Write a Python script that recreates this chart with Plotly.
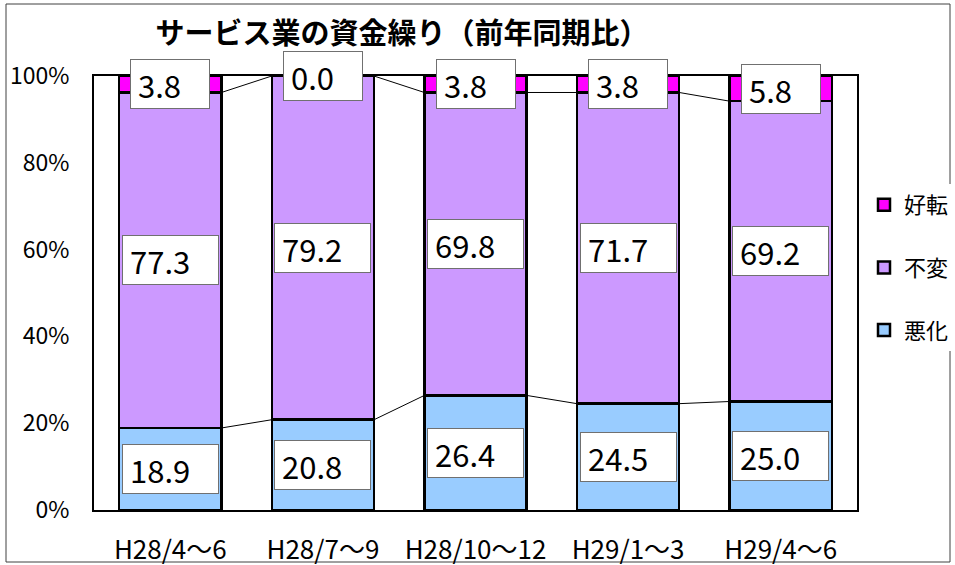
import plotly.graph_objects as go

categories = ["H28/4～6", "H28/7～9", "H28/10～12", "H29/1～3", "H29/4～6"]
worse = [18.9, 20.8, 26.4, 24.5, 25.0]      # 悪化
same = [77.3, 79.2, 69.8, 71.7, 69.2]       # 不変
better = [3.8, 0.0, 3.8, 3.8, 5.8]          # 好転
series_names = ["悪化", "不変", "好転"]
series_colors = ["#99CCFF", "#CC99FF", "#FF00FF"]
y_ticks = [0, 20, 40, 60, 80, 100]

JP = "Noto Sans CJK JP"
bar_w = 0.67
xs = list(range(len(categories)))

fig = go.Figure()
series = [worse, same, better]
for i, (name, vals, col) in enumerate(zip(series_names, series, series_colors)):
    fig.add_trace(go.Bar(
        x=xs, y=vals, name=name, width=bar_w,
        marker=dict(color=col, line=dict(color="black", width=2.5)),
        legendgroup=name, legendrank=len(series) - i,
    ))

# connecting lines between bars at each cumulative boundary
cum = [0] * len(categories)
bounds = []
for vals in series[:-1]:
    cum = [c + v for c, v in zip(cum, vals)]
    bounds.append(list(cum))
for b in bounds:
    lx, ly = [], []
    for i in range(len(categories) - 1):
        lx += [xs[i] + bar_w / 2, xs[i + 1] - bar_w / 2, None]
        ly += [b[i], b[i + 1], None]
    fig.add_trace(go.Scatter(x=lx, y=ly, mode="lines", line=dict(color="black", width=1),
                             showlegend=False, hoverinfo="skip"))

# data labels
base = [0] * len(categories)
for vals in series:
    for i, v in enumerate(vals):
        txt = f"{v:.1f}"
        fig.add_annotation(x=xs[i], y=base[i] + v / 2, text=txt, showarrow=False,
                           font=dict(family=JP, size=31, color="black"),
                           align="left", valign="middle",
                           width=13 + 17 * len(txt), height=34,
                           bgcolor="white", bordercolor="#707070", borderwidth=1, borderpad=7)
    base = [b + v for b, v in zip(base, vals)]

L, R, T, B = 94, 98, 76, 55
W, H = 955, 565
pw, ph = W - L - R, H - T - B
fig.add_shape(type="rect", xref="paper", yref="paper",
              x0=(6 - L) / pw, x1=(950 - L) / pw, y0=-(562 - (H - B)) / ph, y1=1 + (T - 4) / ph,
              line=dict(color="#404040", width=1), layer="below")

fig.update_layout(
    barmode="stack", width=W, height=H,
    margin=dict(l=L, r=R, t=T, b=B, autoexpand=False),
    plot_bgcolor="white", paper_bgcolor="white",
    font=dict(family=JP, color="black"),
    title=dict(text="<b>サービス業の資金繰り（前年同期比）</b>", x=402 / W, xanchor="center",
               y=1 - 34 / H, yanchor="middle", font=dict(family=JP, size=29, color="black")),
    showlegend=True,
    legend=dict(x=(864 - L) / pw, y=(H - B - 184) / ph, xanchor="left", yanchor="top",
                traceorder="grouped", tracegroupgap=31,
                font=dict(family=JP, size=22, color="black"), itemwidth=30),
)
fig.update_xaxes(range=[-0.5, len(categories) - 0.5], tickvals=xs, ticktext=categories,
                 showline=True, linecolor="black", linewidth=2, mirror=True,
                 showgrid=False, zeroline=False, ticks="", ticklabelstandoff=16,
                 tickfont=dict(family=JP, size=26, color="black"))
fig.update_yaxes(range=[0, 100], tickvals=y_ticks, ticktext=[f"{t}%" for t in y_ticks],
                 showline=True, linecolor="black", linewidth=2, mirror=True,
                 showgrid=False, zeroline=False, ticks="", ticklabelstandoff=18,
                 tickfont=dict(family=JP, size=23, color="black"))

fig.write_html("out.html", config={"displayModeBar": False},
               post_script="document.body.style.margin='0';document.body.style.overflow='hidden';")
